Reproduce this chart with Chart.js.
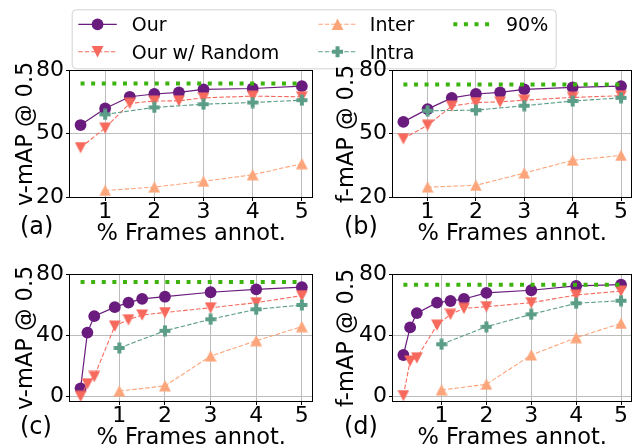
<!DOCTYPE html>
<html>
<head>
<meta charset="utf-8">
<script src="https://cdn.jsdelivr.net/npm/chart.js@4.4.0/dist/chart.umd.min.js"></script>
<style>
  html, body { margin: 0; padding: 0; background: #fff; }
  #fig { position: relative; width: 638px; height: 448px; overflow: hidden; background: #fff; }
  #fig canvas, #fig svg { position: absolute; }
</style>
</head>
<body>
<div id="fig">
  <canvas id="chartA" width="319" height="210" style="left:0;top:40px;z-index:1"></canvas>
  <svg id="legend" width="638" height="80" style="left:0;top:0;z-index:2"></svg>
  <canvas id="chartB" width="319" height="210" style="left:319px;top:40px;z-index:3"></canvas>
  <canvas id="chartC" width="319" height="210" style="left:0;top:244px;z-index:1"></canvas>
  <canvas id="chartD" width="319" height="210" style="left:319px;top:244px;z-index:1"></canvas>
</div>
<script>
// --- datos ---
const seriesNames = ['Our', 'Our w/ Random', 'Inter', 'Intra', '90%'];
const xTicks = [1, 2, 3, 4, 5];
const xLabel = '% Frames annot.';

// (a) y (b): pocas fracciones
const fracSparse = [0.5, 1, 1.5, 2, 2.5, 3, 4, 5];
const fracBase = [1, 2, 3, 4, 5];
const ticksTop = [20, 50, 80];

const vmapOurA = [54.1, 61.9, 67.4, 68.7, 69.5, 70.9, 71.3, 72.4];
const vmapRandA = [43.5, 52.7, 64.3, 65.4, 65.5, 66.9, 67.7, 67.4];
const vmapInterA = [23.3, 24.9, 27.6, 30.7, 35.9];
const vmapIntraA = [59.1, 62.4, 63.9, 64.7, 65.8];
const vmapNinetyA = 73.7;

const fmapOurB = [55.6, 61.6, 66.9, 68.7, 69.5, 70.9, 71.8, 72.4];
const fmapRandB = [47.7, 54.0, 63.0, 64.7, 65.0, 65.8, 67.1, 67.9];
const fmapInterB = [24.9, 25.7, 31.5, 37.5, 39.8];
const fmapIntraB = [60.8, 61.1, 63.2, 65.4, 66.9];
const fmapNinetyB = 73.2;

// (c) y (d): fracciones densas
const fracDense = [0.15, 0.3, 0.45, 0.9, 1.2, 1.5, 2, 3, 4, 5];
const ticksBottom = [0, 40, 80];

const vmapOurC = [5.5, 41.8, 52.5, 58.4, 61.3, 63.8, 65.2, 68.1, 70.0, 71.4];
const vmapRandC = [0.3, 8.5, 13.2, 46.1, 50.2, 53.3, 54.9, 58.0, 61.3, 65.9];
const vmapInterC = [3.7, 7.1, 26.5, 36.5, 45.7];
const vmapIntraC = [31.8, 43.0, 50.5, 57.0, 59.8];
const vmapNinetyC = 74.8;

const fmapOurD = [27.2, 45.2, 54.5, 61.3, 62.4, 63.7, 67.7, 69.4, 72.2, 73.1];
const fmapRandD = [0.8, 23.3, 25.4, 46.7, 53.7, 57.6, 58.7, 61.3, 66.3, 68.9];
const fmapInterD = [4.4, 8.1, 27.2, 38.5, 47.8];
const fmapIntraD = [34.2, 45.6, 53.7, 60.9, 62.6];
const fmapNinetyD = 73.0;

// --- estilo ---
const FONT = "'DejaVu Sans', sans-serif";
const PURPLE = '#6a1c7e';
const SALMON = '#f6695c';
const PEACH = '#fca57a';
const TEAL = '#5c9d88';
const GREEN = '#3bb30c';
const GRID = '#bcbcbc';
Chart.defaults.font.family = FONT;

function markerCanvas(kind, color) {
    const c = document.createElement('canvas');
    c.width = 12; c.height = 12;
    const g = c.getContext('2d');
    g.fillStyle = color;
    g.beginPath();
    if (kind === 'up') {
        g.moveTo(6, 0.2); g.lineTo(11.9, 11.5); g.lineTo(0.1, 11.5);
    } else if (kind === 'down') {
        g.moveTo(0.1, 0.5); g.lineTo(11.9, 0.5); g.lineTo(6, 11.8);
    } else {
        g.rect(4, 0.5, 4, 11); g.rect(0.5, 4, 11, 4);
    }
    g.fill();
    return c;
}
const markDown = markerCanvas('down', SALMON);
const markUp = markerCanvas('up', PEACH);
const markPlus = markerCanvas('plus', TEAL);

const pts = (xs, ys) => xs.map((x, i) => ({ x, y: ys[i] }));

// marco negro alrededor del área (spines)
const axesFrame = {
    id: 'axesFrame',
    afterDatasetsDraw(chart) {
        const { ctx, chartArea: a } = chart;
        const l = Math.round(a.left - 0.5) + 0.5, r = Math.round(a.right - 0.5) + 0.5;
        const t = Math.round(a.top - 0.5) + 0.5, b = Math.round(a.bottom - 0.5) + 0.5;
        ctx.save();
        ctx.strokeStyle = '#000';
        ctx.lineWidth = 1;
        ctx.strokeRect(l, t, r - l, b - t);
        ctx.restore();
    }
};

// letra del panel, (a) (b) ...
const panelLetter = {
    id: 'panelLetter',
    afterDraw(chart, args, opts) {
        const ctx = chart.ctx;
        ctx.save();
        ctx.font = '24px ' + FONT;
        ctx.fillStyle = '#000';
        ctx.textBaseline = 'alphabetic';
        ctx.fillText(opts.text, opts.x, opts.y);
        ctx.restore();
    }
};

function makeChart(p) {
    const ninetyXs = [p.xs[0], p.xs[p.xs.length - 1]];
    new Chart(document.getElementById(p.id), {
        type: 'line',
        data: {
            datasets: [
                { label: seriesNames[0], data: pts(p.xs, p.our), borderColor: PURPLE, backgroundColor: PURPLE,
                  borderWidth: 1.2, pointStyle: 'circle', pointRadius: 5.9, pointBorderWidth: 0, order: 5 },
                { label: seriesNames[1], data: pts(p.xs, p.rand), borderColor: SALMON, backgroundColor: SALMON,
                  borderWidth: 1.1, borderDash: [4.5, 2], pointStyle: markDown, pointRadius: 5, order: 4 },
                { label: seriesNames[2], data: pts(fracBase, p.inter), borderColor: PEACH, backgroundColor: PEACH,
                  borderWidth: 1.1, borderDash: [4.5, 2], pointStyle: markUp, pointRadius: 5, order: 3 },
                { label: seriesNames[3], data: pts(fracBase, p.intra), borderColor: TEAL, backgroundColor: TEAL,
                  borderWidth: 1.1, borderDash: [4.5, 2], pointStyle: markPlus, pointRadius: 5, order: 2 },
                { label: seriesNames[4], data: pts(ninetyXs, [p.ninety, p.ninety]), borderColor: GREEN,
                  borderWidth: 4, borderDash: [4, 6.6], pointRadius: 0, order: 1 }
            ]
        },
        options: {
            responsive: false,
            animation: false,
            devicePixelRatio: 1,
            layout: { padding: { top: 30, right: p.padRight, left: 0, bottom: 0 } },
            plugins: {
                legend: { display: false },
                tooltip: { enabled: false },
                panelLetter: p.letter
            },
            scales: {
                x: {
                    type: 'linear', min: p.xMin, max: p.xMax,
                    afterBuildTicks: s => { s.ticks = xTicks.map(v => ({ value: v })); },
                    afterFit: s => { s.height = 52.5; },
                    grid: { color: GRID, lineWidth: 1, tickColor: '#000', tickLength: 3.5 },
                    border: { display: false },
                    ticks: { color: '#000', font: { size: 22, lineHeight: 1 }, padding: 0, maxRotation: 0, autoSkip: false },
                    title: { display: true, text: xLabel, color: '#000',
                             font: { size: 22.5, lineHeight: 1.2 }, padding: { top: 0, bottom: 2.5 } }
                },
                y: {
                    min: p.yMin, max: p.yMax,
                    afterBuildTicks: s => { s.ticks = p.yTicks.map(v => ({ value: v })); },
                    afterFit: s => { s.width = p.yAxisW; },
                    grid: { color: GRID, lineWidth: 1, tickColor: '#000', tickLength: 3.5 },
                    border: { display: false },
                    ticks: { color: '#000', font: { size: 22, lineHeight: 1 }, padding: 2, autoSkip: false },
                    title: { display: true, text: p.yLabel, color: '#000',
                             font: { size: 22.5, lineHeight: 1.2 }, padding: { top: p.yTitlePad, bottom: 0 } }
                }
            }
        },
        plugins: [axesFrame, panelLetter]
    });
}

const leftCol = { yAxisW: 69.5, padRight: 5, yTitlePad: 12.5 };
const rightCol = { yAxisW: 73.5, padRight: 1, yTitlePad: 14.5 };
const topRow = { xs: fracSparse, xMin: 0.275, xMax: 5.225, yMin: 20, yMax: 80, yTicks: ticksTop, letterY: 194 };
const botRow = { xs: fracDense, xMin: -0.0925, xMax: 5.2425, yMin: -3.1, yMax: 80, yTicks: ticksBottom, letterY: 190 };

makeChart(Object.assign({}, leftCol, topRow, { id: 'chartA', yLabel: 'v-mAP @ 0.5',
    our: vmapOurA, rand: vmapRandA, inter: vmapInterA, intra: vmapIntraA, ninety: vmapNinetyA,
    letter: { text: '(a)', x: 20, y: topRow.letterY } }));
makeChart(Object.assign({}, rightCol, topRow, { id: 'chartB', yLabel: 'f-mAP @ 0.5',
    our: fmapOurB, rand: fmapRandB, inter: fmapInterB, intra: fmapIntraB, ninety: fmapNinetyB,
    letter: { text: '(b)', x: 25, y: topRow.letterY } }));
makeChart(Object.assign({}, leftCol, botRow, { id: 'chartC', yLabel: 'v-mAP @ 0.5',
    our: vmapOurC, rand: vmapRandC, inter: vmapInterC, intra: vmapIntraC, ninety: vmapNinetyC,
    letter: { text: '(c)', x: 20, y: botRow.letterY } }));
makeChart(Object.assign({}, rightCol, botRow, { id: 'chartD', yLabel: 'f-mAP @ 0.5',
    our: fmapOurD, rand: fmapRandD, inter: fmapInterD, intra: fmapIntraD, ninety: fmapNinetyD,
    letter: { text: '(d)', x: 25, y: botRow.letterY } }));

// --- leyenda común (SVG con texto real) ---
const svg = document.getElementById('legend');
const NS = 'http://www.w3.org/2000/svg';
function el(tag, attrs) {
    const e = document.createElementNS(NS, tag);
    for (const k in attrs) e.setAttribute(k, attrs[k]);
    svg.appendChild(e);
    return e;
}
el('rect', { x: 72.2, y: 9.8, width: 484, height: 59, rx: 4, fill: 'rgba(255,255,255,0.8)', stroke: '#d3d3d3', 'stroke-width': 1 });

const colHandle = [78.3, 318.3, 453.3];
const colText = [131.7, 369.8, 506];
const rowY = [24.3, 51.7];
const legendItems = [
    { col: 0, row: 0, color: PURPLE, dash: null, width: 1.2, mark: 'circle' },
    { col: 0, row: 1, color: SALMON, dash: '4.5 2', width: 1.1, mark: 'down' },
    { col: 1, row: 0, color: PEACH, dash: '4.5 2', width: 1.1, mark: 'up' },
    { col: 1, row: 1, color: TEAL, dash: '4.5 2', width: 1.1, mark: 'plus' },
    { col: 2, row: 0, color: GREEN, dash: '4 6.6', width: 4, mark: null }
];
legendItems.forEach((it, i) => {
    const x0 = colHandle[it.col], x1 = x0 + 38.5, cx = (x0 + x1) / 2, cy = rowY[it.row];
    const line = { x1: x0, x2: x1, y1: cy, y2: cy, stroke: it.color, 'stroke-width': it.width };
    if (it.dash) line['stroke-dasharray'] = it.dash;
    el('line', line);
    if (it.mark === 'circle') el('circle', { cx, cy, r: 5.9, fill: it.color });
    if (it.mark === 'down') el('polygon', { points: `${cx-5.9},${cy-5.6} ${cx+5.9},${cy-5.6} ${cx},${cy+5.7}`, fill: it.color });
    if (it.mark === 'up') el('polygon', { points: `${cx},${cy-5.7} ${cx+5.9},${cy+5.6} ${cx-5.9},${cy+5.6}`, fill: it.color });
    if (it.mark === 'plus') el('path', { d: `M${cx-2} ${cy-5.5}h4v3.5h3.5v4h-3.5v3.5h-4v-3.5h-3.5v-4h3.5z`, fill: it.color });
    const t = el('text', { x: colText[it.col], y: cy + 7, fill: '#000', 'font-family': FONT, 'font-size': 19 });
    t.textContent = seriesNames[i];
});
</script>
</body>
</html>
